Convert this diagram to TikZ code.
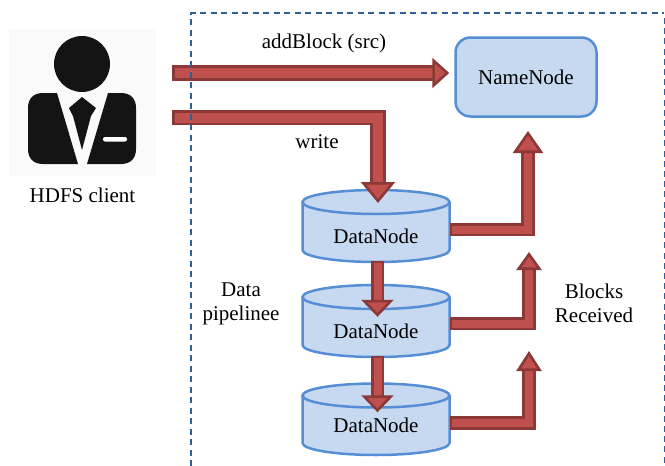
\documentclass[tikz,border=0pt]{standalone}
\usepackage{fontspec}
\setmainfont{Liberation Serif}
\usetikzlibrary{arrows.meta}
\definecolor{arrowfill}{HTML}{C0504D}
\definecolor{arrowedge}{HTML}{8C3836}
\definecolor{nodefill}{HTML}{C6D9F1}
\definecolor{nodeedge}{HTML}{558ED5}
\definecolor{frameblue}{HTML}{2F5F98}
\definecolor{iconblack}{HTML}{141414}
\newcommand{\drumshape}[3]{% x centre, top-ellipse centre y, bottom-ellipse centre y
  \draw[drum] (#1-73.5,#2) -- (#1-73.5,#3) arc[start angle=180,end angle=0,x radius=73.5,y radius=12] -- (#1+73.5,#2) -- cycle;
  \draw[drum] (#1,#2) ellipse[x radius=73.5,y radius=12];
}
\tikzset{
  x=1pt,y=-1pt,
  lbl/.style={font=\fontsize{21}{24.5}\selectfont,text=black,inner sep=0pt,align=center},
  drum/.style={draw=nodeedge,fill=nodefill,line width=2.5pt,line join=round},
  drumlabel/.style={lbl,minimum width=147pt,minimum height=48pt},
  namebox/.style={lbl,draw=nodeedge,fill=nodefill,line width=2.5pt,rounded corners=15pt,minimum width=141pt,minimum height=79pt},
  blockarrow/.style n args={3}{line width=2.6pt,double=arrowfill,double distance=#3pt,draw=arrowedge,
    line join=miter,
    {Bar[width=#3pt+5.2pt,line width=2.6pt,color=arrowedge]}-{Triangle[length=#1pt,width=#2pt,line width=2.6pt,color=arrowedge,fill=arrowfill]}},
  frame/.style={draw=frameblue,line width=1.1pt,dash pattern=on 6pt off 4.5pt},
  frameedge/.style={draw=frameblue,line width=2pt,dash pattern=on 6pt off 4.2pt}
}
\begin{document}
\begin{tikzpicture}
\useasboundingbox (0,0) rectangle (665,466);
% client icon
\fill[white!98!black] (9,29) rectangle (156,176);
\fill[iconblack] (82,64) circle[radius=28];
\fill[iconblack] (57,93) -- (78,164) -- (43,164) .. controls (33,164) and (28,158) .. (28,149) -- (28,108) .. controls (28,99) and (33,93) .. (43,93) -- cycle;
\fill[iconblack] (108,93) -- (87,164) -- (121,164) .. controls (131,164) and (136,158) .. (136,149) -- (136,108) .. controls (136,99) and (131,93) .. (121,93) -- cycle;
\fill[iconblack] (82,97) -- (96,108) -- (91,116) -- (82,150) -- (73,116) -- (69,108) -- cycle;
\fill[white,rounded corners=2pt] (103,137) rectangle (127,141.5);
\node[lbl] (client) at (82.5,195) {HDFS client};
\coordinate (clientA) at (172,73);
\coordinate (clientB) at (172,117.5);
% nodes
\node[namebox] (nn) at (526,77) {NameNode};
\drumshape{376}{202}{250}
\drumshape{376}{297}{345}
\drumshape{376}{395.5}{443}
\node[drumlabel] (dn1) at (376,236.5) {DataNode};
\node[drumlabel] (dn2) at (376,331.5) {DataNode};
\node[drumlabel] (dn3) at (376,425) {DataNode};
% free arrow ends
\coordinate (writeEnd) at (378,203);
\coordinate (ackA) at (528,131);
\coordinate (ackB) at (529,252);
\coordinate (ackC) at (529,351);
% connectors
\draw[blockarrow={17}{30}{10}] (clientA) -- ([xshift=-5pt]nn.west |- clientA);
\draw[blockarrow={21}{34}{10}] (clientB) -| (writeEnd);
\draw[blockarrow={17}{32}{8}] ([xshift=1.5pt]dn1.south) -- ([xshift=1.5pt,yshift=-9.5pt]dn2.north);
\draw[blockarrow={17}{32}{8}] ([xshift=1.5pt]dn2.south) -- ([xshift=1.5pt,yshift=-11.5pt]dn3.north);
\draw[blockarrow={22}{30}{8}] ([yshift=7pt]dn1.east) -| (ackA);
\draw[blockarrow={18}{25}{8}] ([yshift=8pt]dn2.east) -| (ackB);
\draw[blockarrow={20}{25}{8}] ([yshift=2pt]dn3.east) -| (ackC);
% labels
\node[lbl] (addblock) at (324,43) {addBlock (src)};
\node[lbl] (write) at (317,142) {write};
\node[lbl] (pipeline) at (241,304) {Data\\pipelinee};
\node[lbl] (blocks) at (594,303.5) {Blocks\\Received};
% frame
\draw[frame] (191,466) -- (191,13) -- (664,13);
\draw[frameedge] (664.5,18) -- (664.5,466);
\end{tikzpicture}
\end{document}
